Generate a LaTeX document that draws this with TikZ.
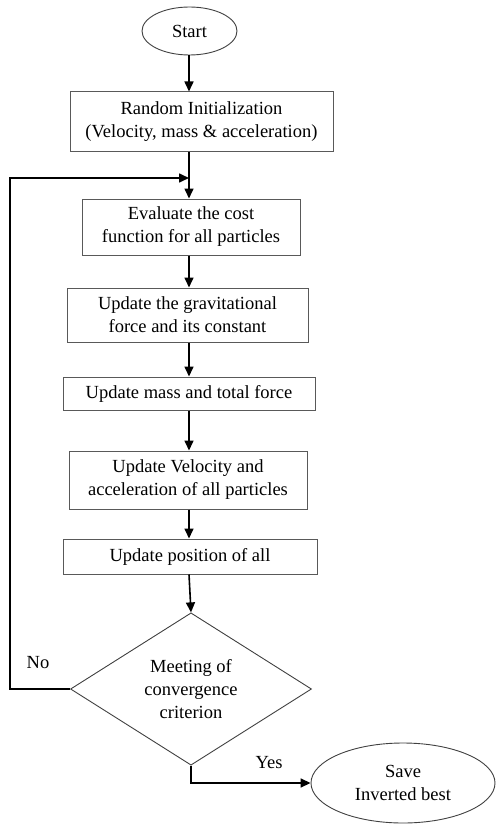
\documentclass[tikz,border=0pt]{standalone}
\usepackage{fontspec}
\setmainfont{Liberation Serif}
\usetikzlibrary{arrows.meta,shapes}
\tikzstyle{term}=[ellipse,draw=black!75,line width=0.9pt,inner sep=0pt,align=center]
\tikzstyle{proc}=[rectangle,draw=black!65,line width=1pt,inner sep=0pt,align=center]
\tikzstyle{decis}=[diamond,draw=black!75,line width=0.9pt,inner sep=0pt,align=center]
\tikzstyle{flow}=[-{Triangle[length=10pt,width=9pt]}, line width=1.6pt]

\begin{document}
\begin{tikzpicture}[x=1pt,y=-1pt,font=\fontsize{18.5}{23}\selectfont]
\useasboundingbox (0,0) rectangle (500,832);
\coordinate (spine) at (189,0);
\node[term,minimum width=95pt,minimum height=48pt] (start) at (189.5,31) {Start};
\node[proc,minimum width=263pt,minimum height=59pt] (init) at (201.5,121.5) {Random Initialization\\(Velocity, mass \& acceleration)};
\node[proc,minimum width=218pt,minimum height=56pt] (eval) at (191,227) {Evaluate the cost\\function for all particles};
\node[proc,minimum width=241pt,minimum height=54pt] (grav) at (187.5,315) {Update the gravitational\\force and its constant};
\node[proc,minimum width=252pt,minimum height=33pt] (mass) at (189,393.5) {Update mass and total force};
\node[proc,minimum width=238pt,minimum height=58pt] (vel) at (188,480) {Update Velocity and\\acceleration of all particles};
\node[proc,minimum width=254pt,minimum height=35pt] (pos) at (190,556.5) {Update position of all};
\node[decis,minimum width=241pt,minimum height=152pt] (dec) at (191,689) {Meeting of\\convergence\\criterion};
\node[term,minimum width=184pt,minimum height=80pt] (save) at (403,783) {Save\\Inverted best};
\node (no) at (38,663) {No};
\node (yes) at (269,763) {Yes};
\coordinate (loop) at (10,178);
\coordinate (join) at (189,178);
\draw[flow] (start.south -| spine) -- (init.north -| spine);
\draw[line width=1.6pt] (init.south -| spine) -- (join);
\draw[flow] (join) -- (eval.north -| spine);
\draw[flow] (eval.south -| spine) -- (grav.north -| spine);
\draw[flow] (grav.south -| spine) -- (mass.north -| spine);
\draw[flow] (mass.south -| spine) -- (vel.north -| spine);
\draw[flow] (vel.south -| spine) -- (pos.north -| spine);
\draw[flow] (pos.south -| spine) -- (dec.north);
\draw[flow] (dec.west) -| (loop) -- (join);
\draw[flow] (dec.south) |- (save.west);
\end{tikzpicture}
\end{document}
